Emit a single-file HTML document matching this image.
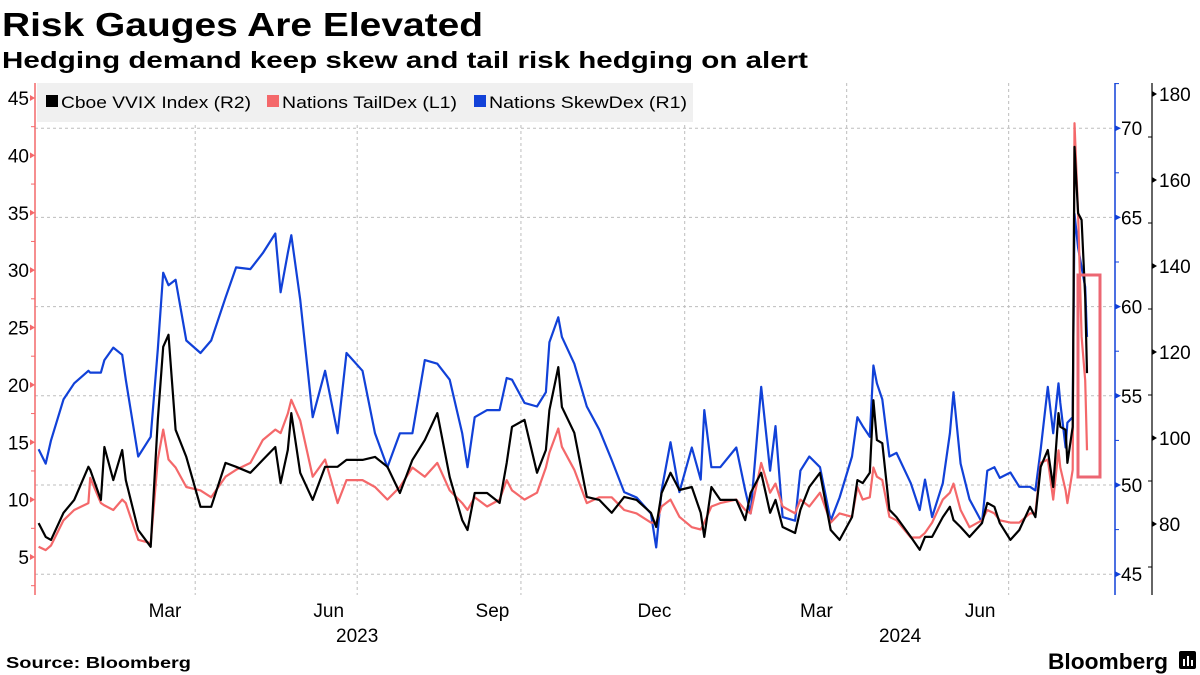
<!DOCTYPE html>
<html><head><meta charset="utf-8">
<style>
html,body{margin:0;padding:0;background:#fff;}
svg{display:block;font-family:"Liberation Sans",sans-serif;}
</style></head>
<body>
<svg id="chart" width="1200" height="675" viewBox="0 0 1200 675">
<text x="2" y="36" font-size="33" font-weight="bold" textLength="481" lengthAdjust="spacingAndGlyphs">Risk Gauges Are Elevated</text>
<text x="2" y="68" font-size="23" font-weight="bold" textLength="806" lengthAdjust="spacingAndGlyphs">Hedging demand keep skew and tail risk hedging on alert</text>
<g id="grid"></g>
<g id="axes"></g>
<g id="series"></g>
<rect x="1078" y="275" width="22" height="202" fill="none" stroke="#ec6773" stroke-width="3"/>
<g>
<rect x="37" y="83" width="656" height="39" fill="#f0f0f0"/>
<g><rect x="46" y="95" width="12" height="12" fill="#000"/><text x="61" y="108" font-size="17" textLength="190" lengthAdjust="spacingAndGlyphs">Cboe VVIX Index  (R2)</text></g>
<g><rect x="267" y="95" width="12" height="12" fill="#f4686a"/><text x="282" y="108" font-size="17" textLength="175" lengthAdjust="spacingAndGlyphs">Nations TailDex  (L1)</text></g>
<g><rect x="474" y="95" width="12" height="12" fill="#1141d8"/><text x="489" y="108" font-size="17" textLength="198" lengthAdjust="spacingAndGlyphs">Nations SkewDex  (R1)</text></g>
</g>
<text x="6" y="668" font-size="16" font-weight="bold" textLength="185" lengthAdjust="spacingAndGlyphs">Source: Bloomberg</text>
<text x="1048" y="669" font-size="22" font-weight="bold" textLength="120" lengthAdjust="spacingAndGlyphs">Bloomberg</text>
<g><rect x="1179" y="651" width="17" height="18" rx="2" fill="#000"/><rect x="1183" y="659" width="2" height="7" fill="#fff"/><rect x="1187" y="656" width="2" height="10" fill="#fff"/><rect x="1191" y="660" width="2" height="6" fill="#fff"/></g>
</svg>
<script>
// days since 2023-01-01
const days = [2,6,9,16,22,30,31,37,39,44,49,51,58,65,69,72,75,79,85,93,99,107,113,121,128,135,138,142,144,149,156,163,170,175,184,191,198,205,212,219,226,233,240,243,247,254,261,265,268,275,282,287,289,294,296,303,310,317,324,331,338,346,349,352,357,362,369,374,376,380,385,394,399,402,408,413,416,420,427,430,435,441,447,452,459,462,465,469,471,473,476,480,484,492,497,500,504,510,514,516,520,525,532,535,539,542,548,553,559,562,565,569,572,575,576,579,580,583,584,586,588,590,591];
const skewDex = [52.0,51.2,52.5,54.8,55.7,56.4,56.3,56.3,57.0,57.7,57.3,55.9,51.6,52.7,57.6,61.9,61.2,61.5,58.1,57.4,58.1,60.5,62.2,62.1,63.0,64.1,60.8,63.0,64.0,60.4,53.8,56.4,52.9,57.4,56.4,52.9,51.0,52.9,52.9,57.0,56.8,55.9,52.9,51.0,53.8,54.2,54.2,56.0,55.9,54.6,54.4,55.2,58.0,59.4,58.3,56.8,54.4,53.1,51.4,49.6,49.3,48.4,46.5,49.7,52.4,49.6,52.1,50.3,54.2,51.0,51.0,52.1,49.7,48.4,55.5,50.8,53.3,48.2,48.0,50.8,51.6,51.0,48.0,49.3,51.6,53.8,53.3,52.7,56.7,55.7,54.8,51.6,51.8,50.1,48.6,50.3,48.2,50.1,52.9,55.2,51.2,49.2,47.9,50.8,51.0,50.4,50.7,49.9,49.9,49.7,52.0,55.5,52.9,55.7,54.6,52.1,53.5,53.8,65.2,63.3,62.2,61.1,58.3,60.9];
const vvix = [80.2,77.0,76.3,82.6,85.6,93.3,92.6,85.6,97.9,90.2,97.2,90.2,78.6,74.7,104.2,121.2,124.0,101.9,95.6,84.0,84.0,94.2,93.3,91.9,94.9,97.9,89.5,97.2,105.8,91.9,85.6,93.3,93.3,94.9,94.9,95.6,93.3,87.2,94.9,99.5,105.8,90.9,80.9,78.6,87.2,87.2,84.9,94.2,102.6,104.2,91.9,97.2,106.5,116.5,107.2,101.2,86.3,85.6,82.6,86.3,85.6,82.6,79.3,87.2,91.9,87.9,88.6,82.6,77.0,88.6,85.6,85.6,80.9,87.2,91.9,82.6,85.6,79.3,77.9,83.3,88.6,91.9,78.6,76.3,81.6,90.2,89.5,91.9,108.8,99.5,98.8,83.3,81.6,77.0,74.0,77.0,77.0,81.6,84.0,80.9,79.3,77.0,80.2,84.9,84.0,80.2,76.3,78.6,84.0,81.6,93.3,97.2,88.6,105.8,102.6,101.9,94.2,102.6,167.7,152.3,150.7,132.8,115.1,122.1];
const tailDex = [5.9,5.6,6.0,8.2,9.1,9.7,11.9,9.7,9.5,9.1,10.0,9.7,6.5,6.2,13.5,16.1,13.5,12.8,11.1,10.8,10.2,12.0,12.6,13.2,15.2,16.1,15.8,17.5,18.7,16.9,12.0,13.5,9.7,11.7,11.7,11.1,10.0,11.1,12.8,12.0,13.2,10.8,9.7,9.1,10.2,9.4,10.0,11.7,10.8,10.0,10.6,12.8,14.1,16.2,14.6,12.6,9.7,10.2,10.2,9.1,8.8,8.0,8.0,9.4,10.0,8.5,7.6,7.4,8.0,9.4,9.7,10.0,9.1,8.8,13.2,10.6,11.4,9.4,8.8,10.0,9.4,10.6,8.0,8.8,8.5,11.1,10.0,10.2,12.8,12.0,11.7,8.5,8.2,6.7,6.7,7.1,8.0,10.0,10.6,11.4,9.1,7.6,8.2,9.1,8.8,8.2,8.0,8.0,8.8,8.8,13.2,13.5,10.0,14.3,12.8,10.8,9.7,12.6,42.8,35.0,24.2,20.4,14.3,18.1];
const leftTicks = [5,10,15,20,25,30,35,40,45];
const skewTicks = [45,50,55,60,65,70];
const vvixTicks = [80,100,120,140,160,180];
const monthLabels = ["Mar","Jun","Sep","Dec","Mar","Jun"];
const monthLabelDays = [73,165,257,348,439,531];
const quarterGridDays = [90,181,273,365,456,547];
const yearLabels = ["2023","2024"];
const yearLabelDays = [181,486];

const NS="http://www.w3.org/2000/svg";
const X0=35, PXDAY=1.78;
const xS=d=>X0+d*PXDAY;
const yL=v=>557-(v-5)*11.475;
const yB=v=>485-(v-50)*17.84;
const yK=v=>524-(v-80)*4.3;
const TOP=83, BOT=595;
function mk(tag,attrs,parent){const e=document.createElementNS(NS,tag);for(const k in attrs)e.setAttribute(k,attrs[k]);parent.appendChild(e);return e;}
const grid=document.getElementById('grid'), axes=document.getElementById('axes'), series=document.getElementById('series');

skewTicks.forEach(v=>{
  const l=mk('line',{x1:X0,x2:1115,y1:yB(v),y2:yB(v),stroke:'#bdbdbd','stroke-dasharray':'3,3','stroke-width':1},grid);
  
  
});
quarterGridDays.forEach(d=>{
  const l=mk('line',{x1:xS(d),x2:xS(d),y1:TOP,y2:BOT,stroke:'#bdbdbd','stroke-dasharray':'3,3','stroke-width':1},grid);
  
  
});

let a=mk('line',{x1:X0,x2:X0,y1:TOP,y2:BOT,stroke:'#f4686a','stroke-width':1.5},axes);


for(let v=2.5; v<=45; v+=2.5){ if(v%5!==0) mk('line',{x1:X0-4,x2:X0,y1:yL(v),y2:yL(v),stroke:'#f4686a'},axes); }
leftTicks.forEach(v=>{
  mk('path',{d:`M${X0} ${yL(v)} l-5 -3 v6z`,fill:'#f4686a'},axes);
  const t=mk('text',{x:X0-6,y:yL(v)+7,'font-size':19,'text-anchor':'end',fill:'#000'},axes);
  t.textContent=v;
  
  
});
a=mk('line',{x1:1115,x2:1115,y1:TOP,y2:BOT,stroke:'#1141d8','stroke-width':1.5},axes);


for(let v=47.5; v<=72.5; v+=5){ mk('line',{x1:1115,x2:1119,y1:yB(v),y2:yB(v),stroke:'#1141d8'},axes); }
skewTicks.forEach(v=>{
  mk('path',{d:`M1121 ${yB(v)} l-6 -3 v6z`,fill:'#1141d8'},axes);
  const t=mk('text',{x:1121,y:yB(v)+7,'font-size':19,fill:'#000'},axes);
  t.textContent=v;
  
  
});
a=mk('line',{x1:1152,x2:1152,y1:TOP,y2:BOT,stroke:'#000','stroke-width':1.2},axes);


for(let v=70; v<=170; v+=20){ mk('line',{x1:1148,x2:1152,y1:yK(v),y2:yK(v),stroke:'#000'},axes); }
vvixTicks.forEach(v=>{
  mk('path',{d:`M1157 ${yK(v)} l-5 -3 v6z`,fill:'#000'},axes);
  const t=mk('text',{x:1159,y:yK(v)+7,'font-size':19,fill:'#000'},axes);
  t.textContent=v;
  
  
});
monthLabels.forEach((m,i)=>{
  const t=mk('text',{x:xS(monthLabelDays[i]),y:617,'font-size':19,'text-anchor':'middle',fill:'#000'},axes);
  t.textContent=m;
  
  
});
yearLabels.forEach((m,i)=>{
  const t=mk('text',{x:xS(yearLabelDays[i]),y:642,'font-size':19,'text-anchor':'middle',fill:'#000'},axes);
  t.textContent=m;
  
  
});

function line(vals,yf,color,name){
  const d=vals.map((v,i)=>(i?'L':'M')+xS(days[i]).toFixed(1)+' '+yf(v).toFixed(1)).join(' ');
  const p=mk('path',{d:d,fill:'none',stroke:color,'stroke-width':2.2,'stroke-linejoin':'round'},series);
  
  
}
line(skewDex,yB,'#1141d8','skewdex-line');
line(tailDex,yL,'#f4686a','taildex-line');
line(vvix,yK,'#000000','vvix-line');
</script>
</body></html>
